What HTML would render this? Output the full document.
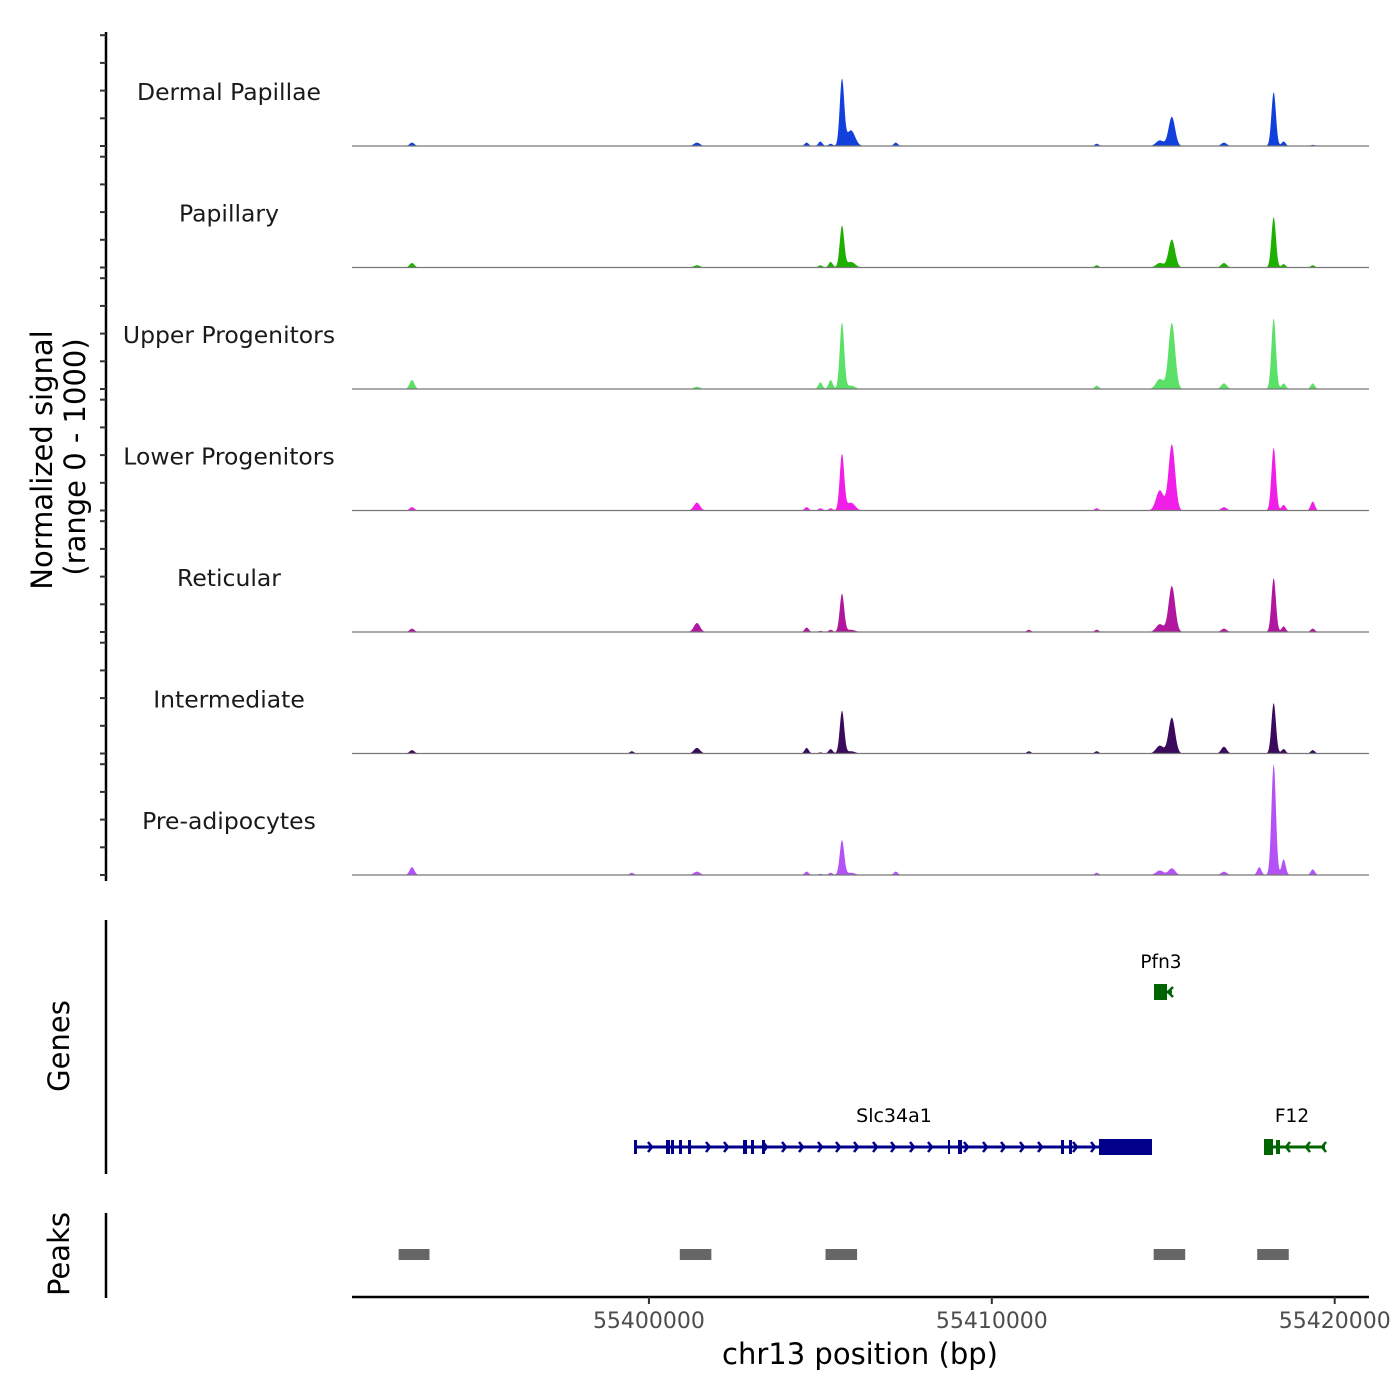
<!DOCTYPE html>
<html><head><meta charset="utf-8"><style>
body{margin:0;background:#fff}
svg{display:block;font-family:"DejaVu Sans","Liberation Sans",sans-serif}
</style></head><body>
<svg id="chart" width="1400" height="1400" viewBox="0 0 1400 1400" xmlns="http://www.w3.org/2000/svg">
<g id="tracks"></g>
<g id="left"></g>
<text transform="translate(52,460) rotate(-90)" text-anchor="middle" font-size="29" fill="#000">Normalized signal</text>
<text transform="translate(85,457) rotate(-90)" text-anchor="middle" font-size="29" fill="#000">(range 0 - 1000)</text>
<line x1="106" y1="920" x2="106" y2="1174" stroke="#000" stroke-width="2.5"/>
<text transform="translate(69,1046) rotate(-90)" text-anchor="middle" font-size="29">Genes</text>
<line x1="106" y1="1213" x2="106" y2="1298" stroke="#000" stroke-width="2.5"/>
<text transform="translate(69,1254) rotate(-90)" text-anchor="middle" font-size="29">Peaks</text>
<g id="genes"></g>
<g id="peaks"></g>
<g id="xaxis"></g>
<text x="860" y="1364" text-anchor="middle" font-size="29">chr13 position (bp)</text>
</svg>
<script>
const NS="http://www.w3.org/2000/svg";
const trackNames=["Dermal Papillae","Papillary","Upper Progenitors","Lower Progenitors","Reticular","Intermediate","Pre-adipocytes"];
const trackColors=["#1240dd","#1eb000","#5be068","#f01ee8","#b0179e","#3a0a5c","#b452f6"];
const peakPos=[55393090,55399500,55401400,55404600,55405000,55405300,55405630,55405890,55407200,55411080,55413060,55414900,55415250,55416770,55417800,55418220,55418510,55419360];
const dermalVals=[30,0,30,30,40,20,590,140,30,0,20,50,260,30,0,480,40,10];
const papillaryVals=[40,0,20,0,20,50,370,50,0,0,20,40,250,40,0,450,30,20];
const upperVals=[80,0,20,0,60,80,590,30,0,0,30,90,590,50,0,630,50,50];
const lowerVals=[30,0,70,30,20,20,500,70,0,0,20,180,590,30,0,560,50,80];
const reticularVals=[30,0,80,40,10,20,340,20,0,20,20,70,410,30,0,480,50,30];
const intermediateVals=[30,20,50,50,10,40,380,20,0,20,20,70,320,60,0,450,40,30];
const preadipoVals=[70,20,30,30,10,20,310,20,30,0,20,40,60,30,70,990,140,50];
const peakWidths=[70,60,90,60,60,60,65,120,60,60,60,110,95,80,60,65,60,60];
const seriesVals=[dermalVals,papillaryVals,upperVals,lowerVals,reticularVals,intermediateVals,preadipoVals];
const xTicks=[55400000,55410000,55420000];
const peakStarts=[55392700,55400900,55405150,55414720,55417740];
const peakEnds=[55393600,55401820,55406070,55415640,55418660];

const X0=55391340, X1=55421000, PX0=352, PX1=1369;
const xs=v=>PX0+(v-X0)/(X1-X0)*(PX1-PX0);
const baseY=i=>146+i*121.5;
const hs=v=>v/1000*112;
function mk(tag,attrs,parent){const e=document.createElementNS(NS,tag);for(const k in attrs)e.setAttribute(k,attrs[k]);parent.appendChild(e);return e;}

const tracks=document.getElementById('tracks');
trackNames.forEach((name,i)=>{
  const b=baseY(i);const vals=seriesVals[i];
  let d=`M${PX0},${b}`;
  for(let px=PX0;px<=1326;px+=0.5){
    const bp=X0+(px-PX0)/(PX1-PX0)*(X1-X0);
    let s=0;
    for(let k=0;k<peakPos.length;k++){const z=(bp-peakPos[k])/peakWidths[k];s+=vals[k]*Math.exp(-0.5*z*z);}
    d+=`L${px.toFixed(1)},${(b-hs(s)).toFixed(2)}`;
  }
  d+=`L1326,${b}Z`;
  const p=mk('path',{d:d,fill:trackColors[i]},tracks);
  
  
  const l=mk('line',{x1:PX0,x2:PX1,y1:b,y2:b,stroke:'#777','stroke-width':1.2},tracks);
  
  
  const t=mk('text',{x:229,y:b-46,'text-anchor':'middle','font-size':23.5,fill:'#1a1a1a'},tracks);
  t.textContent=name;
  
  
});

const left=document.getElementById('left');
mk('line',{x1:106,x2:106,y1:32,y2:881,stroke:'#000','stroke-width':2.5},left);
for(let i=0;i<7;i++){for(let k=0;k<5;k++){const y=baseY(i)-k*27.7;mk('line',{x1:100,x2:106,y1:y,y2:y,stroke:'#333','stroke-width':2},left);}}

const xa=document.getElementById('xaxis');
mk('line',{x1:PX0,x2:PX1,y1:1297,y2:1297,stroke:'#000','stroke-width':2.5},xa);
xTicks.forEach(v=>{
  const x=xs(v);
  mk('line',{x1:x,x2:x,y1:1297,y2:1304,stroke:'#333','stroke-width':2},xa);
  const t=mk('text',{x:x,y:1328,'text-anchor':'middle','font-size':22,fill:'#4d4d4d'},xa);
  t.textContent=String(v);
  
  
});

const pk=document.getElementById('peaks');
peakStarts.forEach((s,i)=>{
  const r=mk('rect',{x:xs(s),y:1249,width:xs(peakEnds[i])-xs(s),height:11,fill:'#666'},pk);
  
  
});

const g=document.getElementById('genes');
const blue="#00008b", green="#006400";
mk('line',{x1:636,x2:1152,y1:1147,y2:1147,stroke:blue,'stroke-width':3},g);
[[634,3],[666,4],[671,3],[679,3],[688,3],[743,4],[751,3],[762,3],[948,2],[958,4],[1061,3],[1069,3]].forEach(([x,w])=>mk('rect',{x:x,y:1140,width:w,height:14,fill:blue},g));
mk('rect',{x:1099,y:1139,width:53,height:16,fill:blue},g);
[652,710,728,767,786,803,822,840,858,877,895,914,932,968,987,1005,1024,1042,1077,1095].forEach(x=>mk('path',{d:`M${x-4},${1142}L${x},${1147}L${x-4},${1152}`,stroke:blue,'stroke-width':2.5,fill:'none'},g));
let t=mk('text',{x:894,y:1122,'text-anchor':'middle','font-size':19},g);t.textContent='Slc34a1';


mk('line',{x1:1155,x2:1172,y1:992,y2:992,stroke:green,'stroke-width':3},g);
mk('rect',{x:1154,y:984,width:13,height:16,fill:green},g);
mk('path',{d:'M1173,987L1168,992L1173,997',stroke:green,'stroke-width':2.5,fill:'none'},g);
t=mk('text',{x:1161,y:968,'text-anchor':'middle','font-size':18.5},g);t.textContent='Pfn3';


mk('line',{x1:1264,x2:1325,y1:1147,y2:1147,stroke:green,'stroke-width':3},g);
mk('rect',{x:1264,y:1139,width:9,height:16,fill:green},g);
mk('rect',{x:1276,y:1140,width:4,height:14,fill:green},g);
[1286,1306,1322].forEach(x=>mk('path',{d:`M${x+4},${1142}L${x},${1147}L${x+4},${1152}`,stroke:green,'stroke-width':2.5,fill:'none'},g));
t=mk('text',{x:1292,y:1122,'text-anchor':'middle','font-size':18.5},g);t.textContent='F12';


</script>
</body></html>
